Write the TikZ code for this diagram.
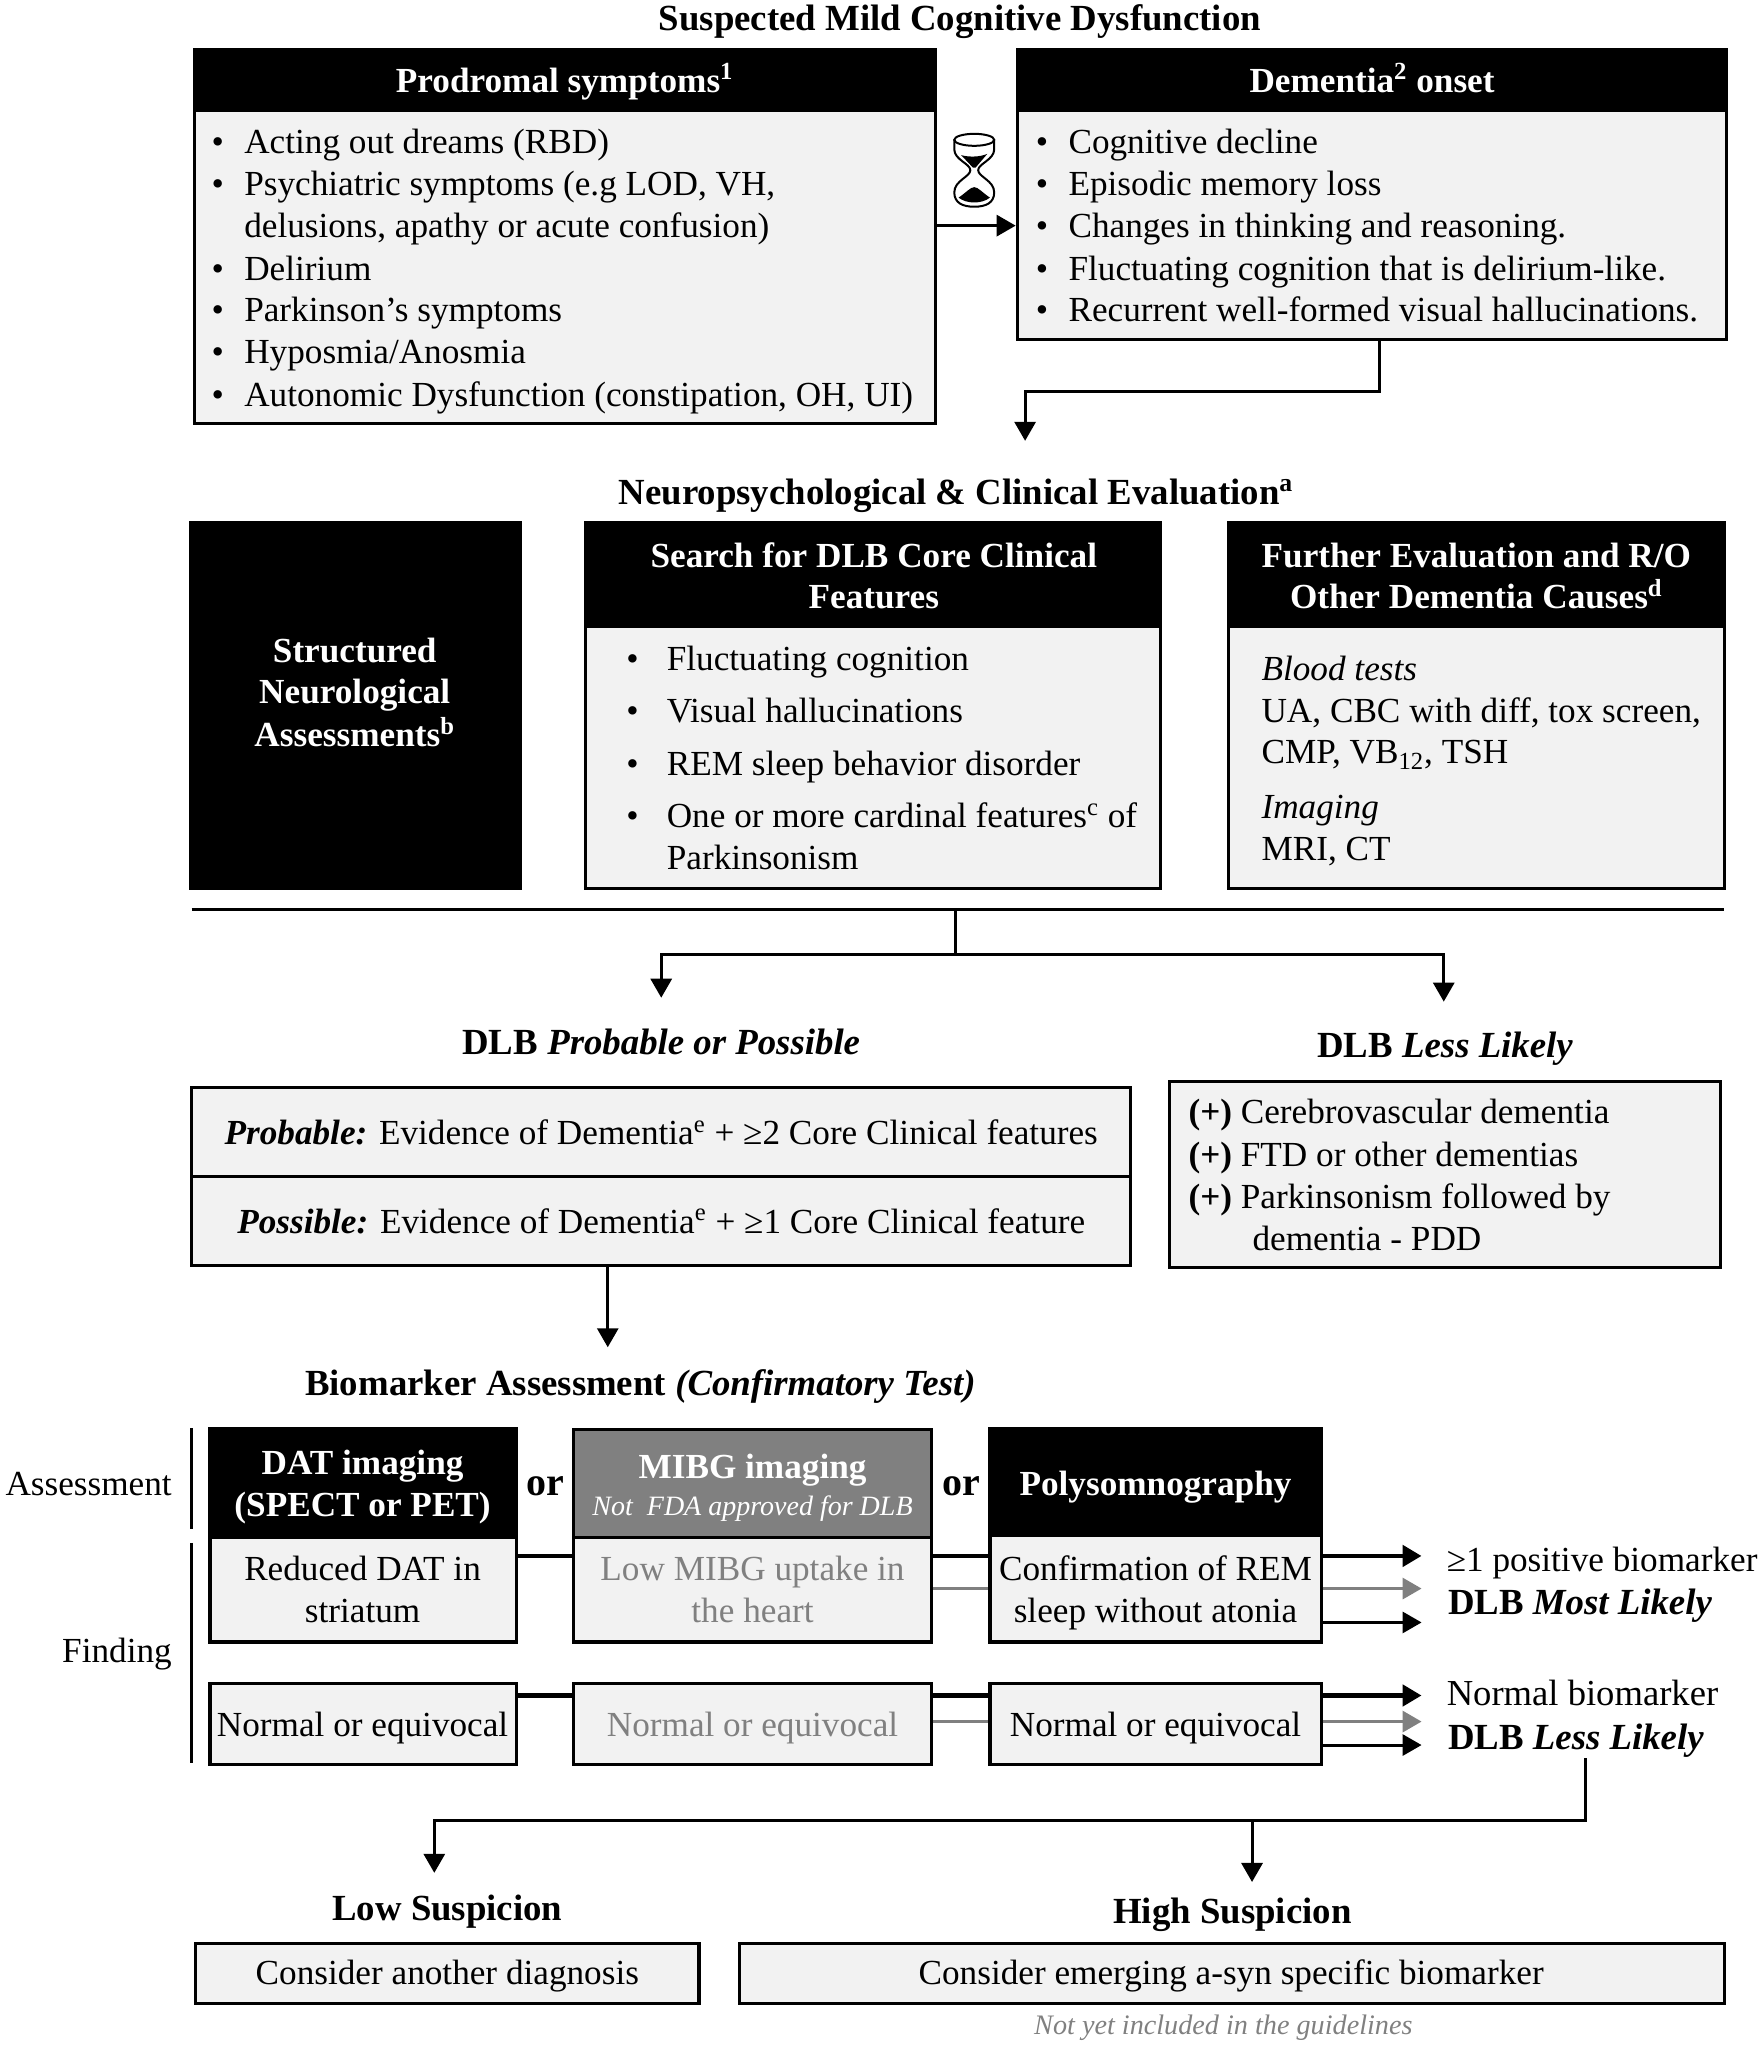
\documentclass[tikz,border=0pt]{standalone}
\usepackage{fontspec}
\setmainfont{Liberation Serif}
\usetikzlibrary{fit,arrows.meta}

\definecolor{panelgray}{HTML}{F2F2F2}
\definecolor{fadegray}{HTML}{808080}

\newcommand*{\bodysize}{\fontsize{17.6}{21}\selectfont}
\newcommand*{\titlesize}{\fontsize{18.4}{21}\selectfont}
\newcommand*{\bul}{\makebox[16.3pt][l]{•}}
\newcommand*{\nobul}{\makebox[16.3pt][l]{}}
\newcommand*{\wbul}{\makebox[20.2pt][l]{•}}
\newcommand*{\nowbul}{\makebox[20.2pt][l]{}}

\tikzset{
	txt/.style={inner sep=0pt, yshift=-3.4pt, font=\bodysize},
	title/.style={txt, font=\titlesize\bfseries},
	whitebold/.style={txt, text=white, font=\bodysize\bfseries},
	faded/.style={txt, text=fadegray},
	panelbody/.style={draw=black, fill=panelgray, line width=1.6pt, inner sep=0pt},
	panelhead/.style={panelbody, fill=black},
	panelfade/.style={panelbody, fill=fadegray},
	flow/.style={line width=1.5pt, -{Triangle[length=9.5pt,width=10.5pt]}},
	plain/.style={line width=1.5pt},
	thicklink/.style={line width=2.4pt},
	fadelink/.style={line width=1.6pt, draw=fadegray},
	sidebar/.style={line width=1.5pt},
}

\begin{document}
\begin{tikzpicture}[x=0.652pt, y=-0.652pt]

% \boxat{name}{x1}{y1}{x2}{y2}{style}
\newcommand*{\boxat}[6]{%
	\node [#6, fit={(#2,#3) (#4,#5)}] (#1) {};
}

\useasboundingbox (0,0) rectangle (1352,1568);

% turning points
\coordinate (hourRow) at (747,173);
\coordinate (evalTip) at (786,338);
\coordinate (evalBend) at (1058,300);
\coordinate (ruleLeft) at (147,697);
\coordinate (ruleRight) at (1322,697);
\coordinate (ruleStem) at (733,697);
\coordinate (branchBend) at (733,732);
\coordinate (probTip) at (507,765);
\coordinate (lessTip) at (1107,768);
\coordinate (bioTip) at (466,1033);
\coordinate (posTop) at (1090,1193);
\coordinate (posMid) at (1090,1218);
\coordinate (posBot) at (1090,1244);
\coordinate (negTop) at (1090,1300);
\coordinate (negMid) at (1090,1320);
\coordinate (negBot) at (1090,1338);
\coordinate (finalBend) at (1216,1396);
\coordinate (lowTip) at (333,1436);
\coordinate (highTip) at (960,1443);

% first row
\node [title, anchor=mid] (suspectTitle) at (736,15) {Suspected Mild Cognitive Dysfunction};
\boxat{prodBody}{149}{85}{717}{325}{panelbody}
\boxat{prodHead}{149}{38}{717}{85}{panelhead}
\boxat{demBody}{780}{85}{1324}{260}{panelbody}
\boxat{demHead}{780}{38}{1324}{85}{panelhead}
\node [whitebold, anchor=mid] (prodTitle) at (433,62) {Prodromal symptoms\textsuperscript{1}};
\node [whitebold, anchor=mid] (demTitle) at (1052,62) {Dementia\textsuperscript{2} onset};

\foreach \ly/\ltext [count=\li] in {
	109/{\bul Acting out dreams (RBD)},
	141/{\bul Psychiatric symptoms (e.g LOD, VH,},
	173/{\nobul delusions, apathy or acute confusion)},
	206/{\bul Delirium},
	238/{\bul Parkinson’s symptoms},
	270/{\bul Hyposmia/Anosmia},
	303/{\bul Autonomic Dysfunction (constipation, OH, UI)}}
	\node [txt, anchor=mid west] (prodLine\li) at (162,\ly) {\ltext};

\foreach \ly/\ltext [count=\li] in {
	109/{\bul Cognitive decline},
	141/{\bul Episodic memory loss},
	173/{\bul Changes in thinking and reasoning.},
	206/{\bul Fluctuating cognition that is delirium-like.},
	238/{\bul Recurrent well-formed visual hallucinations.}}
	\node [txt, anchor=mid west] (demLine\li) at (794,\ly) {\ltext};

% hourglass
\begin{scope}[shift={(747,130.5)}, line width=1pt]
	\draw (0,-23.3) ellipse [x radius=15.3, y radius=4.6];
	\draw (-15.3,-23.3) -- (-15.3,-16) .. controls (-15.3,-8) and (-3,-5) .. (-3,0)
		.. controls (-3,5) and (-15.3,8) .. (-15.3,17)
		.. controls (-15.3,25) and (-9,28) .. (0,28)
		.. controls (9,28) and (15.3,25) .. (15.3,17)
		.. controls (15.3,8) and (3,5) .. (3,0)
		.. controls (3,-5) and (15.3,-8) .. (15.3,-16) -- (15.3,-23.3);
	\fill (-10,-11.5) .. controls (-4,-10) and (4,-10) .. (10,-12.5) -- (1,-2) -- (-1,-2) -- cycle;
	\fill (-12,21) .. controls (-6,17) and (-3,13) .. (0,13)
		.. controls (3,13) and (6,17) .. (12,21)
		.. controls (6,26) and (-6,26) .. (-12,21) -- cycle;
\end{scope}

\draw [flow] (prodBody.east |- hourRow) -- (demBody.west |- hourRow);
\draw [flow] (demBody.south -| evalBend) -- (evalBend) -| (evalTip);

% evaluation row
\node [title, anchor=mid] (evalTitle) at (733,378) {Neuropsychological \& Clinical Evaluation\textsuperscript{a}};
\boxat{neuroBox}{146}{401}{399}{681}{panelhead}
\node [whitebold, anchor=mid] (neuroLine1) at (272,499) {Structured};
\node [whitebold, anchor=mid] (neuroLine2) at (272,531) {Neurological};
\node [whitebold, anchor=mid] (neuroLine3) at (272,564) {Assessments\textsuperscript{b}};

\boxat{coreBody}{449}{480}{890}{681}{panelbody}
\boxat{coreHead}{449}{401}{890}{480}{panelhead}
\node [whitebold, anchor=mid] (coreTitle1) at (670,426) {Search for DLB Core Clinical};
\node [whitebold, anchor=mid] (coreTitle2) at (670,458) {Features};
\foreach \ly/\ltext [count=\li] in {
	505/{\wbul Fluctuating cognition},
	545/{\wbul Visual hallucinations},
	586/{\wbul REM sleep behavior disorder},
	626/{\wbul One or more cardinal features\textsuperscript{c} of},
	658/{\nowbul Parkinsonism}}
	\node [txt, anchor=mid west] (coreLine\li) at (480,\ly) {\ltext};

\boxat{furtherBody}{942}{480}{1322}{681}{panelbody}
\boxat{furtherHead}{942}{401}{1322}{480}{panelhead}
\node [whitebold, anchor=mid] (furtherTitle1) at (1132,426) {Further Evaluation and R/O};
\node [whitebold, anchor=mid] (furtherTitle2) at (1132,458) {Other Dementia Causes\textsuperscript{d}};
\foreach \ly/\ltext [count=\li] in {
	513/{\textit{Blood tests}},
	545/{UA, CBC with diff, tox screen,},
	577/{CMP, VB\textsubscript{12}, TSH},
	619/{\textit{Imaging}},
	651/{MRI, CT}}
	\node [txt, anchor=mid west] (furtherLine\li) at (967,\ly) {\ltext};

\draw [plain] (ruleLeft) -- (ruleRight);
\draw [plain] (ruleStem) -- (branchBend);
\draw [flow] (branchBend) -| (probTip);
\draw [flow] (branchBend) -| (lessTip);

% diagnosis row
\node [title, anchor=mid] (probTitle) at (507,800) {DLB \textit{Probable or Possible}};
\node [title, anchor=mid] (lessTitle) at (1108,802) {DLB \textit{Less Likely}};
\boxat{probBox}{147}{834}{867}{902}{panelbody}
\boxat{possBox}{147}{902}{867}{970}{panelbody}
\node [txt, anchor=mid] (probLine) at (507,869) {\textbf{\textit{Probable:}} Evidence of Dementia\textsuperscript{e} + ≥2 Core Clinical features};
\node [txt, anchor=mid] (possLine) at (507,937) {\textbf{\textit{Possible:}} Evidence of Dementia\textsuperscript{e} + ≥1 Core Clinical feature};
\boxat{lessBox}{897}{829}{1319}{972}{panelbody}
\foreach \ly/\ltext [count=\li] in {
	853/{\textbf{(+)} Cerebrovascular dementia},
	886/{\textbf{(+)} FTD or other dementias},
	918/{\textbf{(+)} Parkinsonism followed by},
	950/{\hspace*{32pt}dementia - PDD}}
	\node [txt, anchor=mid west] (lessLine\li) at (911,\ly) {\ltext};
\draw [flow] (possBox.south -| bioTip) -- (bioTip);

% biomarker rows
\node [title, anchor=mid] (bioTitle) at (491,1061) {Biomarker Assessment \textit{(Confirmatory Test)}};
\node [txt, anchor=mid east] (assessLabel) at (132,1138) {Assessment};
\node [txt, anchor=mid east] (findLabel) at (132,1266) {Finding};
\coordinate (barTopA) at (146.5,1095);
\coordinate (barTopB) at (146.5,1172);
\coordinate (barLowA) at (146.5,1183);
\coordinate (barLowB) at (146.5,1352);
\draw [sidebar] (barTopA) -- (barTopB);
\draw [sidebar] (barLowA) -- (barLowB);

\boxat{datHead}{161}{1095}{396}{1179}{panelhead}
\boxat{datFind}{161}{1179}{396}{1259}{panelbody}
\boxat{datNorm}{161}{1291}{396}{1353}{panelbody}
\boxat{mibgHead}{440}{1096}{714}{1179}{panelfade}
\boxat{mibgFind}{440}{1179}{714}{1259}{panelbody}
\boxat{mibgNorm}{440}{1291}{714}{1353}{panelbody}
\boxat{polyHead}{759}{1095}{1013}{1177}{panelhead}
\boxat{polyFind}{759}{1177}{1013}{1259}{panelbody}
\boxat{polyNorm}{759}{1291}{1013}{1353}{panelbody}

\node [whitebold, anchor=mid] (datTitle1) at (278,1122) {DAT imaging};
\node [whitebold, anchor=mid] (datTitle2) at (278,1154) {(SPECT or PET)};
\node [whitebold, anchor=mid] (mibgTitle) at (577,1125) {MIBG imaging};
\node [txt, text=white, anchor=mid, font=\fontsize{14}{17}\selectfont\itshape] (mibgNote) at (577,1153) {Not\ \ FDA approved for DLB};
\node [whitebold, anchor=mid] (polyTitle) at (886,1138) {Polysomnography};
\node [txt, anchor=mid, font=\fontsize{20}{21}\selectfont\bfseries] (orLeft) at (418,1138) {or};
\node [txt, anchor=mid, font=\fontsize{20}{21}\selectfont\bfseries] (orRight) at (737,1138) {or};

\node [txt, anchor=mid] (datFind1) at (278,1203) {Reduced DAT in};
\node [txt, anchor=mid] (datFind2) at (278,1235) {striatum};
\node [faded, anchor=mid] (mibgFind1) at (577,1203) {Low MIBG uptake in};
\node [faded, anchor=mid] (mibgFind2) at (577,1235) {the heart};
\node [txt, anchor=mid] (polyFind1) at (886,1203) {Confirmation of REM};
\node [txt, anchor=mid] (polyFind2) at (886,1235) {sleep without atonia};
\node [txt, anchor=mid] (datNormText) at (278,1323) {Normal or equivocal};
\node [faded, anchor=mid] (mibgNormText) at (577,1323) {Normal or equivocal};
\node [txt, anchor=mid] (polyNormText) at (886,1323) {Normal or equivocal};

% links to the outcome texts
\draw [thicklink] (datFind.east |- posTop) -- (mibgFind.west |- posTop);
\draw [thicklink] (datNorm.east |- negTop) -- (mibgNorm.west |- negTop);
\draw [thicklink] (mibgFind.east |- posTop) -- (polyFind.west |- posTop);
\draw [fadelink] (mibgFind.east |- posMid) -- (polyFind.west |- posMid);
\draw [thicklink] (mibgNorm.east |- negTop) -- (polyNorm.west |- negTop);
\draw [fadelink] (mibgNorm.east |- negMid) -- (polyNorm.west |- negMid);
\draw [flow, thicklink] (polyFind.east |- posTop) -- (posTop);
\draw [flow, fadelink] (polyFind.east |- posMid) -- (posMid);
\draw [flow] (polyFind.east |- posBot) -- (posBot);
\draw [flow, thicklink] (polyNorm.east |- negTop) -- (negTop);
\draw [flow, fadelink] (polyNorm.east |- negMid) -- (negMid);
\draw [flow] (polyNorm.east |- negBot) -- (negBot);

\node [txt, anchor=mid west] (posLine) at (1109,1196) {≥1 positive biomarker};
\node [title, anchor=mid west] (posResult) at (1110,1229) {DLB \textit{Most Likely}};
\node [txt, anchor=mid west, font=\fontsize{18.3}{21}\selectfont] (negLine) at (1109,1299) {Normal biomarker};
\node [title, anchor=mid west] (negResult) at (1110,1333) {DLB \textit{Less Likely}};

\draw [flow] (negResult.south -| finalBend) -- (finalBend) -| (lowTip);
\draw [flow] (finalBend -| highTip) -- (highTip);

% last row
\node [title, anchor=mid] (lowTitle) at (343,1464) {Low Suspicion};
\node [title, anchor=mid] (highTitle) at (945,1466) {High Suspicion};
\boxat{lowBox}{150}{1490}{536}{1536}{panelbody}
\boxat{highBox}{567}{1490}{1322}{1536}{panelbody}
\node [txt, anchor=mid] (lowText) at (343,1513) {Consider another diagnosis};
\node [txt, anchor=mid] (highText) at (944,1513) {Consider emerging a-syn specific biomarker};
\node [txt, anchor=mid, text=fadegray, font=\fontsize{14.1}{17}\selectfont\itshape] (highNote) at (938,1551) {Not yet included in the guidelines};

\end{tikzpicture}
\end{document}
